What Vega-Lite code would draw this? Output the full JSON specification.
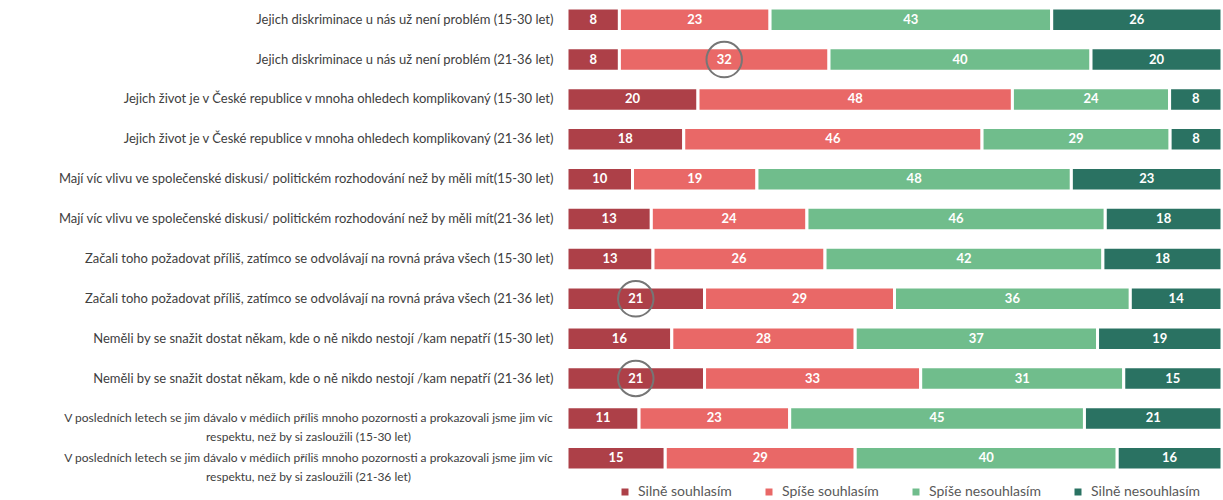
{
  "$schema": "https://vega.github.io/schema/vega-lite/v6.json",
  "autosize": {"type": "none"},
  "width": 655,
  "height": 478,
  "padding": {"left": 567, "top": 0, "right": 1, "bottom": 22},
  "config": {"view": {"stroke": null}, "font": "Lato"},
  "data": {"values": [
    {"k":1,"q":"Jejich diskriminace u nás už není problém (15-30 let)","cat":"Silně souhlasím","o":1,"v":8,"circ":false},
    {"k":1,"q":"Jejich diskriminace u nás už není problém (15-30 let)","cat":"Spíše souhlasím","o":2,"v":23,"circ":false},
    {"k":1,"q":"Jejich diskriminace u nás už není problém (15-30 let)","cat":"Spíše nesouhlasím","o":3,"v":43,"circ":false},
    {"k":1,"q":"Jejich diskriminace u nás už není problém (15-30 let)","cat":"Silně nesouhlasím","o":4,"v":26,"circ":false},
    {"k":2,"q":"Jejich diskriminace u nás už není problém (21-36 let)","cat":"Silně souhlasím","o":1,"v":8,"circ":false},
    {"k":2,"q":"Jejich diskriminace u nás už není problém (21-36 let)","cat":"Spíše souhlasím","o":2,"v":32,"circ":true},
    {"k":2,"q":"Jejich diskriminace u nás už není problém (21-36 let)","cat":"Spíše nesouhlasím","o":3,"v":40,"circ":false},
    {"k":2,"q":"Jejich diskriminace u nás už není problém (21-36 let)","cat":"Silně nesouhlasím","o":4,"v":20,"circ":false},
    {"k":3,"q":"Jejich život je v České republice v mnoha ohledech komplikovaný (15-30 let)","cat":"Silně souhlasím","o":1,"v":20,"circ":false},
    {"k":3,"q":"Jejich život je v České republice v mnoha ohledech komplikovaný (15-30 let)","cat":"Spíše souhlasím","o":2,"v":48,"circ":false},
    {"k":3,"q":"Jejich život je v České republice v mnoha ohledech komplikovaný (15-30 let)","cat":"Spíše nesouhlasím","o":3,"v":24,"circ":false},
    {"k":3,"q":"Jejich život je v České republice v mnoha ohledech komplikovaný (15-30 let)","cat":"Silně nesouhlasím","o":4,"v":8,"circ":false},
    {"k":4,"q":"Jejich život je v České republice v mnoha ohledech komplikovaný (21-36 let)","cat":"Silně souhlasím","o":1,"v":18,"circ":false},
    {"k":4,"q":"Jejich život je v České republice v mnoha ohledech komplikovaný (21-36 let)","cat":"Spíše souhlasím","o":2,"v":46,"circ":false},
    {"k":4,"q":"Jejich život je v České republice v mnoha ohledech komplikovaný (21-36 let)","cat":"Spíše nesouhlasím","o":3,"v":29,"circ":false},
    {"k":4,"q":"Jejich život je v České republice v mnoha ohledech komplikovaný (21-36 let)","cat":"Silně nesouhlasím","o":4,"v":8,"circ":false},
    {"k":5,"q":"Mají víc vlivu ve společenské diskusi/ politickém rozhodování než by měli mít(15-30 let)","cat":"Silně souhlasím","o":1,"v":10,"circ":false},
    {"k":5,"q":"Mají víc vlivu ve společenské diskusi/ politickém rozhodování než by měli mít(15-30 let)","cat":"Spíše souhlasím","o":2,"v":19,"circ":false},
    {"k":5,"q":"Mají víc vlivu ve společenské diskusi/ politickém rozhodování než by měli mít(15-30 let)","cat":"Spíše nesouhlasím","o":3,"v":48,"circ":false},
    {"k":5,"q":"Mají víc vlivu ve společenské diskusi/ politickém rozhodování než by měli mít(15-30 let)","cat":"Silně nesouhlasím","o":4,"v":23,"circ":false},
    {"k":6,"q":"Mají víc vlivu ve společenské diskusi/ politickém rozhodování než by měli mít(21-36 let)","cat":"Silně souhlasím","o":1,"v":13,"circ":false},
    {"k":6,"q":"Mají víc vlivu ve společenské diskusi/ politickém rozhodování než by měli mít(21-36 let)","cat":"Spíše souhlasím","o":2,"v":24,"circ":false},
    {"k":6,"q":"Mají víc vlivu ve společenské diskusi/ politickém rozhodování než by měli mít(21-36 let)","cat":"Spíše nesouhlasím","o":3,"v":46,"circ":false},
    {"k":6,"q":"Mají víc vlivu ve společenské diskusi/ politickém rozhodování než by měli mít(21-36 let)","cat":"Silně nesouhlasím","o":4,"v":18,"circ":false},
    {"k":7,"q":"Začali toho požadovat příliš, zatímco se odvolávají na rovná práva všech (15-30 let)","cat":"Silně souhlasím","o":1,"v":13,"circ":false},
    {"k":7,"q":"Začali toho požadovat příliš, zatímco se odvolávají na rovná práva všech (15-30 let)","cat":"Spíše souhlasím","o":2,"v":26,"circ":false},
    {"k":7,"q":"Začali toho požadovat příliš, zatímco se odvolávají na rovná práva všech (15-30 let)","cat":"Spíše nesouhlasím","o":3,"v":42,"circ":false},
    {"k":7,"q":"Začali toho požadovat příliš, zatímco se odvolávají na rovná práva všech (15-30 let)","cat":"Silně nesouhlasím","o":4,"v":18,"circ":false},
    {"k":8,"q":"Začali toho požadovat příliš, zatímco se odvolávají na rovná práva všech (21-36 let)","cat":"Silně souhlasím","o":1,"v":21,"circ":true},
    {"k":8,"q":"Začali toho požadovat příliš, zatímco se odvolávají na rovná práva všech (21-36 let)","cat":"Spíše souhlasím","o":2,"v":29,"circ":false},
    {"k":8,"q":"Začali toho požadovat příliš, zatímco se odvolávají na rovná práva všech (21-36 let)","cat":"Spíše nesouhlasím","o":3,"v":36,"circ":false},
    {"k":8,"q":"Začali toho požadovat příliš, zatímco se odvolávají na rovná práva všech (21-36 let)","cat":"Silně nesouhlasím","o":4,"v":14,"circ":false},
    {"k":9,"q":"Neměli by se snažit dostat někam, kde o ně nikdo nestojí /kam nepatří (15-30 let)","cat":"Silně souhlasím","o":1,"v":16,"circ":false},
    {"k":9,"q":"Neměli by se snažit dostat někam, kde o ně nikdo nestojí /kam nepatří (15-30 let)","cat":"Spíše souhlasím","o":2,"v":28,"circ":false},
    {"k":9,"q":"Neměli by se snažit dostat někam, kde o ně nikdo nestojí /kam nepatří (15-30 let)","cat":"Spíše nesouhlasím","o":3,"v":37,"circ":false},
    {"k":9,"q":"Neměli by se snažit dostat někam, kde o ně nikdo nestojí /kam nepatří (15-30 let)","cat":"Silně nesouhlasím","o":4,"v":19,"circ":false},
    {"k":10,"q":"Neměli by se snažit dostat někam, kde o ně nikdo nestojí /kam nepatří (21-36 let)","cat":"Silně souhlasím","o":1,"v":21,"circ":true},
    {"k":10,"q":"Neměli by se snažit dostat někam, kde o ně nikdo nestojí /kam nepatří (21-36 let)","cat":"Spíše souhlasím","o":2,"v":33,"circ":false},
    {"k":10,"q":"Neměli by se snažit dostat někam, kde o ně nikdo nestojí /kam nepatří (21-36 let)","cat":"Spíše nesouhlasím","o":3,"v":31,"circ":false},
    {"k":10,"q":"Neměli by se snažit dostat někam, kde o ně nikdo nestojí /kam nepatří (21-36 let)","cat":"Silně nesouhlasím","o":4,"v":15,"circ":false},
    {"k":11,"q":"V posledních letech se jim dávalo v médiích příliš mnoho pozornosti a prokazovali jsme jim víc|respektu, než by si zasloužili (15-30 let)","cat":"Silně souhlasím","o":1,"v":11,"circ":false},
    {"k":11,"q":"V posledních letech se jim dávalo v médiích příliš mnoho pozornosti a prokazovali jsme jim víc|respektu, než by si zasloužili (15-30 let)","cat":"Spíše souhlasím","o":2,"v":23,"circ":false},
    {"k":11,"q":"V posledních letech se jim dávalo v médiích příliš mnoho pozornosti a prokazovali jsme jim víc|respektu, než by si zasloužili (15-30 let)","cat":"Spíše nesouhlasím","o":3,"v":45,"circ":false},
    {"k":11,"q":"V posledních letech se jim dávalo v médiích příliš mnoho pozornosti a prokazovali jsme jim víc|respektu, než by si zasloužili (15-30 let)","cat":"Silně nesouhlasím","o":4,"v":21,"circ":false},
    {"k":12,"q":"V posledních letech se jim dávalo v médiích příliš mnoho pozornosti a prokazovali jsme jim víc|respektu, než by si zasloužili (21-36 let)","cat":"Silně souhlasím","o":1,"v":15,"circ":false},
    {"k":12,"q":"V posledních letech se jim dávalo v médiích příliš mnoho pozornosti a prokazovali jsme jim víc|respektu, než by si zasloužili (21-36 let)","cat":"Spíše souhlasím","o":2,"v":29,"circ":false},
    {"k":12,"q":"V posledních letech se jim dávalo v médiích příliš mnoho pozornosti a prokazovali jsme jim víc|respektu, než by si zasloužili (21-36 let)","cat":"Spíše nesouhlasím","o":3,"v":40,"circ":false},
    {"k":12,"q":"V posledních letech se jim dávalo v médiích příliš mnoho pozornosti a prokazovali jsme jim víc|respektu, než by si zasloužili (21-36 let)","cat":"Silně nesouhlasím","o":4,"v":16,"circ":false}
  ]},
  "transform": [
    {"stack": "v", "groupby": ["q"], "sort": [{"field": "o", "order": "ascending"}], "offset": "normalize", "as": ["v0", "v1"]},
    {"calculate": "(datum.v0 + datum.v1) / 2", "as": "vm"}
  ],
  "encoding": {
    "y": {
      "field": "q", "type": "nominal",
      "sort": {"field": "k", "op": "min", "order": "ascending"},
      "scale": {"paddingInner": 0.41, "paddingOuter": 0.2},
      "axis": {
        "title": null, "domain": false, "ticks": false,
        "labelExpr": "split(datum.value, '|')",
        "labelFont": "Lato", "labelColor": "#404040",
        "labelLimit": 600, "labelLineHeight": 18.5,
        "labelFontSize": {"condition": {"test": "indexof(datum.value, '|') >= 0", "value": 12}, "value": 13},
        "labelAlign": {"condition": {"test": "indexof(datum.value, '|') >= 0", "value": "center"}, "value": "right"},
        "labelPadding": {"condition": {"test": "indexof(datum.value, '|') >= 0", "value": 259}, "value": 14}
      }
    }
  },
  "layer": [
    {
      "mark": {"type": "bar", "stroke": "white", "strokeWidth": 3},
      "encoding": {
        "x": {"field": "v0", "type": "quantitative", "scale": {"domain": [0, 1], "nice": false}, "axis": null},
        "x2": {"field": "v1"},
        "color": {
          "field": "cat", "type": "nominal",
          "scale": {"domain": ["Silně souhlasím", "Spíše souhlasím", "Spíše nesouhlasím", "Silně nesouhlasím"],
                    "range": ["#ad4048", "#e96867", "#70bd8c", "#2a7262"]},
          "legend": {
            "title": null, "orient": "none", "direction": "horizontal",
            "legendX": 51, "legendY": 485,
            "symbolType": "square", "symbolSize": 49, "symbolStrokeWidth": 0,
            "labelFont": "Lato", "labelFontSize": 14, "labelColor": "#595959",
            "columnPadding": 30, "labelOffset": 6
          }
        }
      }
    },
    {
      "mark": {"type": "text", "color": "white", "fontWeight": "bold", "fontSize": 13, "font": "Lato", "baseline": "middle"},
      "encoding": {
        "x": {"field": "vm", "type": "quantitative"},
        "text": {"field": "v", "type": "quantitative"}
      }
    },
    {
      "transform": [{"filter": "datum.circ"}],
      "mark": {"type": "point", "shape": "circle", "filled": false, "stroke": "#767676", "strokeWidth": 2, "size": 1257, "opacity": 1},
      "encoding": {
        "x": {"field": "vm", "type": "quantitative"}
      }
    }
  ]
}
